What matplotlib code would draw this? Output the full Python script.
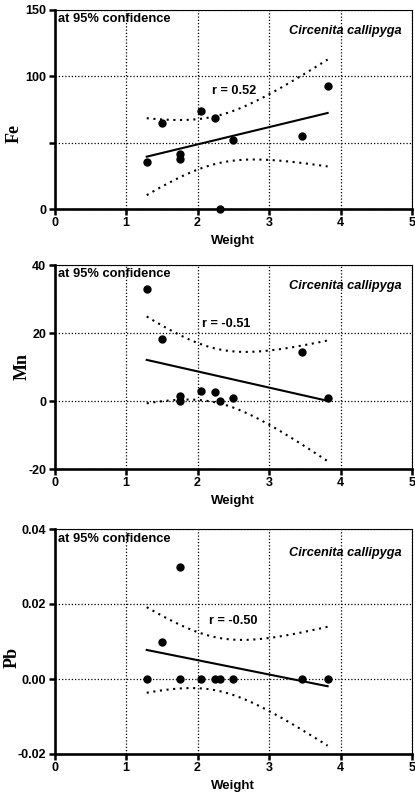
import numpy as np
import matplotlib
matplotlib.use("Agg")
import matplotlib.pyplot as plt

# Valeurs
weight = [1.29, 1.51, 1.76, 1.76, 2.05, 2.24, 2.31, 2.49, 3.46, 3.82]
fe = [35.4, 64.9, 41.7, 37.6, 74.2, 68.7, 0.0, 52.0, 55.0, 92.4]
mn = [32.8, 18.1, 1.5, 0.0, 3.0, 2.6, 0.0, 0.9, 14.4, 1.0]
pb = [0.0, 0.010, 0.030, 0.0, 0.0, 0.0, 0.0, 0.0, 0.0, 0.0]

metals = ["Fe", "Mn", "Pb"]
r_labels = ["r = 0.52", "r = -0.51", "r = -0.50"]
ylims = [(0, 150), (-20, 40), (-0.02, 0.04)]
yticks = [[0, 50, 100, 150], [-20, 0, 20, 40], [-0.02, 0.0, 0.02, 0.04]]
yticklabels = [["0", "", "100", "150"], ["-20", "0", "20", "40"],
               ["-0.02", "0.00", "0.02", "0.04"]]
r_pos = [(2.20, 88.7), (2.06, 22.6), (2.16, 0.0155)]
ylabel_pos = [(-0.088, 0.38), (-0.066, 0.50), (-0.094, 0.43)]

# positions des axes en pixels (gauche, haut, bas)
W, H = 415, 798
boxes = [(54.5, 10, 209), (54.5, 265, 469), (54.5, 529, 754)]

plt.rcParams['font.family'] = ['Liberation Sans', 'DejaVu Sans']
fig = plt.figure(figsize=(W / 100, H / 100), dpi=100)

x = np.array(weight)
for i, ys in enumerate([fe, mn, pb]):
    left, top, bottom = boxes[i]
    ax = fig.add_axes([left / W, 1 - bottom / H, (412 - left) / W, (bottom - top) / H])
    y = np.array(ys)

    # régression linéaire + IC 95%
    n = len(x)
    slope, icpt = np.polyfit(x, y, 1)
    xs = np.linspace(x.min(), x.max(), 100)
    fit = icpt + slope * xs
    resid = y - (icpt + slope * x)
    s = np.sqrt(np.sum(resid ** 2) / (n - 2))
    sxx = np.sum((x - x.mean()) ** 2)
    se = s * np.sqrt(1 / n + (xs - x.mean()) ** 2 / sxx)
    t = 2.306
    ax.plot(xs, fit, color='black', lw=1.5, zorder=3)
    ax.plot(xs, fit + t * se, color='black', ls=(0, (1, 2.2)), lw=1.5, zorder=3)
    ax.plot(xs, fit - t * se, color='black', ls=(0, (1, 2.2)), lw=1.5, zorder=3)
    ax.plot(x, y, 'o', color='black', markersize=5, zorder=4, clip_on=False)

    ax.set_xlim(0, 5)
    ax.set_ylim(*ylims[i])
    ax.set_xticks([0, 1, 2, 3, 4, 5])
    ax.set_yticks(yticks[i])
    ax.set_yticklabels(yticklabels[i])
    ax.grid(True, ls=(0, (1, 1.6)), color='black', lw=0.9)
    ax.set_axisbelow(True)

    for side in ['left', 'bottom']:
        ax.spines[side].set_linewidth(1.9)
    for side in ['top', 'right']:
        ax.spines[side].set_linewidth(0.8)
    ax.tick_params(direction='out', length=4, width=1.8, labelsize=9, pad=2)
    for lab in ax.get_xticklabels() + ax.get_yticklabels():
        lab.set_fontweight('bold')

    ax.set_xlabel("Weight", fontsize=9.5, fontweight='bold', labelpad=4)
    ax.set_ylabel(metals[i], fontsize=13, fontweight='bold',
                  family=['Liberation Serif', 'DejaVu Serif'])
    ax.yaxis.set_label_coords(*ylabel_pos[i])

    ax.text(0.01, 0.955, "at 95% confidence", transform=ax.transAxes,
            fontsize=9.3, fontweight='bold', ha='left', va='center')
    ax.text(0.972, 0.895, "Circenita callipyga", transform=ax.transAxes,
            fontsize=9.2, fontweight='bold', style='italic', ha='right', va='center')
    ax.text(r_pos[i][0], r_pos[i][1], r_labels[i], fontsize=9.2,
            fontweight='bold', ha='left', va='center')

fig.savefig("out.png", dpi=100)
